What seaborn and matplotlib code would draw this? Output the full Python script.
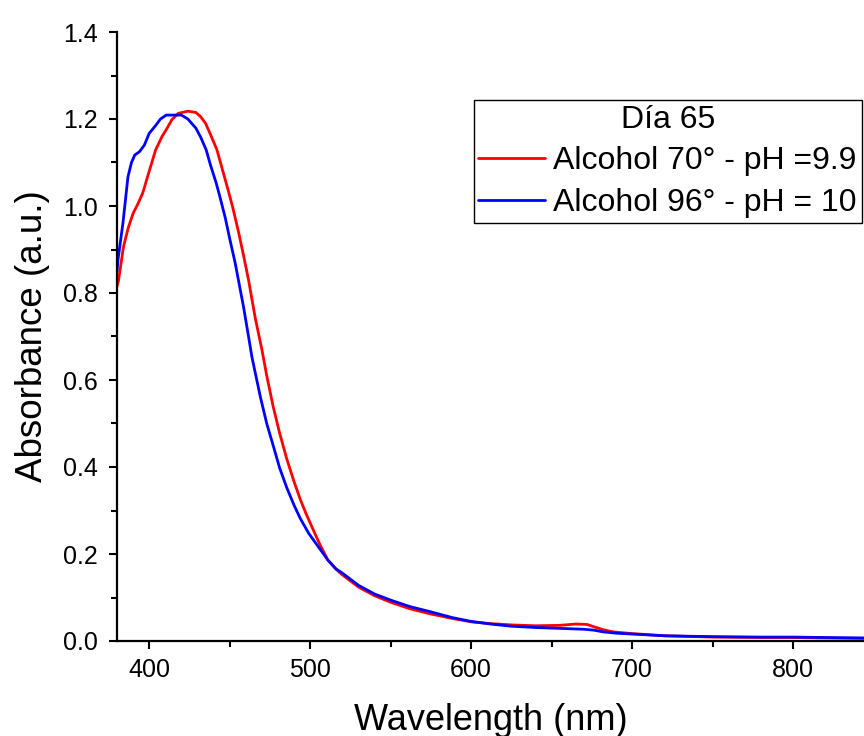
import numpy as np
import pandas as pd
import matplotlib
matplotlib.use("Agg")
import matplotlib.pyplot as plt
import seaborn as sns
from matplotlib.ticker import MultipleLocator

# Series: Alcohol 70° - pH =9.9 (red)
wl_70 = [380, 381, 384, 387, 390, 393, 396, 400, 404, 408, 411, 414, 418, 424, 429,
         432, 435, 438, 442, 445, 449, 452, 455.5, 458.5, 461.7, 466, 470, 473, 477,
         481, 485.5, 490, 494, 497.5, 501, 506, 511, 516, 520, 530, 540, 550, 562,
         575, 588, 600, 612, 625, 640, 655, 665, 672, 676, 682, 688, 700, 720, 750,
         780, 800, 820, 844]
abs_70 = [0.815, 0.83, 0.906, 0.95, 0.983, 1.005, 1.03, 1.08, 1.129, 1.16, 1.178,
          1.198, 1.213, 1.218, 1.215, 1.205, 1.19, 1.165, 1.13, 1.09, 1.037, 0.995,
          0.94, 0.888, 0.83, 0.74, 0.67, 0.61, 0.539, 0.478, 0.418, 0.366, 0.324,
          0.292, 0.263, 0.222, 0.186, 0.165, 0.152, 0.124, 0.104, 0.089, 0.074,
          0.062, 0.052, 0.044, 0.040, 0.037, 0.035, 0.036, 0.039, 0.038, 0.033,
          0.026, 0.021, 0.017, 0.012, 0.009, 0.008, 0.008, 0.007, 0.006]

# Series: Alcohol 96° - pH = 10 (blue)
wl_96 = [380, 380.6, 383.7, 386.8, 389, 391, 394, 397, 400, 404, 407, 410.6, 420,
         424, 429, 432, 435.4, 438, 441.6, 444, 447.3, 450, 453.4, 458.6, 461.7,
         463.8, 469, 473, 477.2, 481, 485.5, 490, 493.8, 499, 504, 511, 516, 520,
         530, 540, 550, 562, 575, 588, 600, 612, 625, 640, 655, 670, 676, 682, 690,
         700, 720, 750, 780, 800, 820, 844]
abs_96 = [0.85, 0.876, 0.961, 1.067, 1.10, 1.117, 1.125, 1.14, 1.167, 1.185, 1.20,
          1.209, 1.209, 1.20, 1.179, 1.158, 1.129, 1.095, 1.053, 1.02, 0.972, 0.925,
          0.869, 0.768, 0.70, 0.653, 0.562, 0.50, 0.447, 0.398, 0.352, 0.312, 0.282,
          0.248, 0.222, 0.186, 0.166, 0.156, 0.128, 0.108, 0.094, 0.079, 0.067,
          0.054, 0.045, 0.039, 0.034, 0.031, 0.029, 0.027, 0.025, 0.021, 0.018,
          0.016, 0.012, 0.010, 0.009, 0.009, 0.008, 0.007]

labels = ["Alcohol 70° - pH =9.9", "Alcohol 96° - pH = 10"]
colors = ["#ff0000", "#0000ff"]
legend_title = "Día 65"
x_label = "Wavelength (nm)"
y_label = "Absorbance (a.u.)"
x_ticks = [400, 500, 600, 700, 800]
y_ticks = [0.0, 0.2, 0.4, 0.6, 0.8, 1.0, 1.2, 1.4]

df = pd.concat([
    pd.DataFrame({"wl": wl_70, "abs": abs_70, "series": labels[0]}),
    pd.DataFrame({"wl": wl_96, "abs": abs_96, "series": labels[1]}),
], ignore_index=True)

sns.set_style("ticks")
plt.rcParams["font.family"] = ["Liberation Sans", "DejaVu Sans"]
plt.rcParams["text.color"] = "black"
plt.rcParams["axes.labelcolor"] = "black"

fig = plt.figure(figsize=(8.64, 7.36), dpi=100)
ax = fig.add_axes([117 / 864, 95 / 736, 1 - 117 / 864, (641 - 32) / 736])

sns.lineplot(data=df, x="wl", y="abs", hue="series", hue_order=labels,
             palette=colors, linewidth=2.0, ax=ax, sort=True, estimator=None)

ax.set_xlim(380, 844)
ax.set_ylim(0, 1.4)
ax.set_xticks(x_ticks)
ax.set_yticks(y_ticks)
ax.set_yticklabels([f"{v:.1f}" for v in y_ticks])
ax.xaxis.set_minor_locator(MultipleLocator(50))
ax.yaxis.set_minor_locator(MultipleLocator(0.1))

for s in ["top", "right"]:
    ax.spines[s].set_visible(False)
for s in ["left", "bottom"]:
    ax.spines[s].set_linewidth(1.6)
    ax.spines[s].set_color("black")

ax.tick_params(which="major", direction="out", length=6, width=1.5, labelsize=18,
               colors="black")
ax.tick_params(axis="x", which="major", pad=6)
ax.tick_params(axis="y", which="major", pad=8)
ax.tick_params(which="minor", direction="out", length=4, width=1.5, colors="black")

ax.set_xlabel(x_label, fontsize=26, labelpad=15, color="black")
ax.set_ylabel(y_label, fontsize=26.5, labelpad=9, color="black")

leg = ax.legend(title=legend_title, fontsize=23, title_fontsize=23,
                loc="upper right", bbox_to_anchor=(0.997, 0.888),
                frameon=True, fancybox=False, framealpha=1, edgecolor="black",
                handlelength=2.1, handletextpad=0.25, borderpad=0.15,
                labelspacing=0.36, borderaxespad=0.0)
leg.get_frame().set_linewidth(1.0)
leg.get_title().set_color("black")
for t in leg.get_texts():
    t.set_color("black")
for line in leg.get_lines():
    line.set_linewidth(2.0)

fig.savefig("out.png", dpi=100)
